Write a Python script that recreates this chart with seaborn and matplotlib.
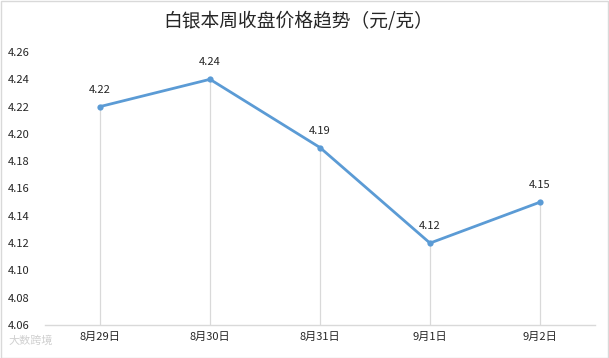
import matplotlib
matplotlib.use("Agg")
import matplotlib.pyplot as plt
import seaborn as sns
import pandas as pd

dates = ["8月29日", "8月30日", "8月31日", "9月1日", "9月2日"]
prices = [4.22, 4.24, 4.19, 4.12, 4.15]
yticks = [4.06, 4.08, 4.10, 4.12, 4.14, 4.16, 4.18, 4.20, 4.22, 4.24, 4.26]
title = "白银本周收盘价格趋势（元/克）"

sns.set_theme(style="white")
plt.rcParams['font.family'] = ['Noto Sans CJK SC', 'DejaVu Sans']

df = pd.DataFrame({"date": dates, "price": prices})

fig = plt.figure(figsize=(6.09, 3.58), dpi=100)
ax = fig.add_axes([45/609, 33/358, 550/609, 273/358])

line_color = "#5B9BD5"
grid_color = "#D9D9D9"

sns.lineplot(data=df, x="date", y="price", ax=ax, color=line_color, linewidth=2.0,
             marker="o", markersize=4.5, markeredgewidth=0, sort=False)

ymin, ymax = 4.06, 4.26
ax.set_ylim(ymin, ymax)
ax.set_xlim(-0.5, len(dates) - 0.5)

# drop lines
ax.vlines(range(len(dates)), ymin, prices, colors=grid_color, linewidth=0.9, zorder=0)

# data labels
for i, v in enumerate(prices):
    ax.annotate(f"{v:.2f}", (i, v), xytext=(0, 8.5), textcoords="offset points",
                ha="center", va="bottom", fontsize=8, color="#262626")

ax.set_yticks(yticks)
ax.set_yticklabels([f"{t:.2f}" for t in yticks])
ax.set_xticks(range(len(dates)))
ax.set_xticklabels(dates)
ax.set_xlabel("")
ax.set_ylabel("")

for s in ["top", "right", "left"]:
    ax.spines[s].set_visible(False)
ax.spines["bottom"].set_color(grid_color)
ax.spines["bottom"].set_linewidth(1.0)

ax.tick_params(axis="y", length=0, pad=11, labelsize=8, labelcolor="#262626")
ax.tick_params(axis="x", length=0, pad=5, labelsize=8, labelcolor="#262626")

# boundary tick marks on category axis
ax.set_xticks([i + 0.5 for i in range(-1, len(dates))], minor=True)
ax.tick_params(axis="x", which="minor", length=4, color=grid_color, width=1.0, direction="out")

fig.text(298/609, 1 - 22/358, title, ha="center", va="center", fontsize=13.5, color="#262626")

# watermark
fig.text(8/609, 1 - 341/358, "大数跨境", ha="left", va="center", fontsize=8, color="#D0D0D0")

# outer frame
fig.patches.append(plt.Rectangle((0.5/609, 0.5/358), 1 - 1.5/609, 1 - 1.5/358, transform=fig.transFigure,
                                 fill=False, edgecolor=grid_color, linewidth=1.0))

fig.savefig("out.png", dpi=100)
